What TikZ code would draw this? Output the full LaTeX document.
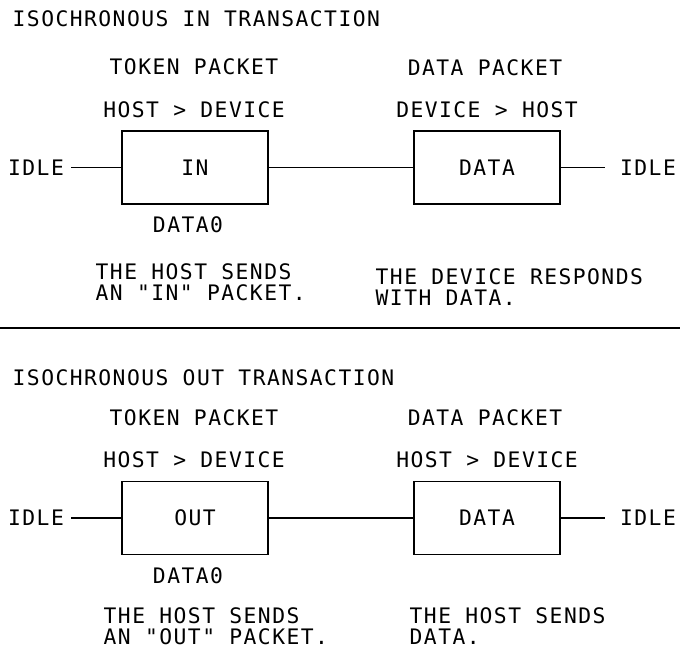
\documentclass[tikz,border=0pt]{standalone}
\usepackage{fontspec}
\newfontfamily\cadfont{DejaVu Sans Mono}[LetterSpace=6.8]
\tikzset{%
  txt/.style={inner sep=0pt,anchor=base,font=\cadfont\fontsize{16pt}{15.75pt}\selectfont},
  note/.style={txt,anchor=north west,align=left},
  idle/.style={txt,anchor=center,inner xsep=5pt},
  pkt/.style={draw,txt,anchor=center,minimum width=109.5pt,minimum height=54.75pt}
}

\begin{document}
\begin{tikzpicture}[x=0.75pt,y=-0.75pt,line width=1pt]
  \useasboundingbox (0,0) rectangle (680,646);
  % In transaction
  \node[txt,anchor=base west] (ttl0) at (12,26) {ISOCHRONOUS IN TRANSACTION};
  \node[txt] (tok0) at (194,74) {TOKEN PACKET};
  \node[txt] (dir0) at (194,117) {HOST > DEVICE};
  \node[txt] (dpk0) at (485,75) {DATA PACKET};
  \node[txt] (dir1) at (487,117) {DEVICE > HOST};
  \node[pkt] (in) at (195,167.5) {IN};
  \node[pkt] (dat0) at (487,167.5) {DATA};
  \node[idle] (idle0) at (36,167.5) {IDLE};
  \node[idle] (idle1) at (648,167.5) {IDLE};
  \draw (idle0) -- (in);
  \draw (in) -- (dat0);
  \draw[shorten >=6pt] (dat0) -- (idle1);
  \node[txt] (pid0) at (188,232) {DATA0};
  \node[note] (n0) at (95,263) {THE HOST SENDS\\AN "IN" PACKET.};
  \node[note] (n1) at (375,268) {THE DEVICE RESPONDS\\WITH DATA.};
  % Separator
  \coordinate (s0) at (0,328);
  \coordinate (s1) at (680,328);
  \draw[line width=1.5pt] (s0) -- (s1);
  % Out transaction
  \node[txt,anchor=base west] (ttl1) at (12,385) {ISOCHRONOUS OUT TRANSACTION};
  \node[txt] (tok1) at (194,425) {TOKEN PACKET};
  \node[txt] (dir2) at (194,467) {HOST > DEVICE};
  \node[txt] (dpk1) at (485,425) {DATA PACKET};
  \node[txt] (dir3) at (487,467) {HOST > DEVICE};
  \node[pkt] (out) at (195,518) {OUT};
  \node[pkt] (dat1) at (487,518) {DATA};
  \node[idle] (idle2) at (36,518) {IDLE};
  \node[idle] (idle3) at (648,518) {IDLE};
  \draw (idle2) -- (out);
  \draw (out) -- (dat1);
  \draw[shorten >=6pt] (dat1) -- (idle3);
  \node[txt] (pid1) at (188,583) {DATA0};
  \node[note] (n2) at (103,607) {THE HOST SENDS\\AN "OUT" PACKET.};
  \node[note] (n3) at (409,607) {THE HOST SENDS\\DATA.};
\end{tikzpicture}
\end{document}
